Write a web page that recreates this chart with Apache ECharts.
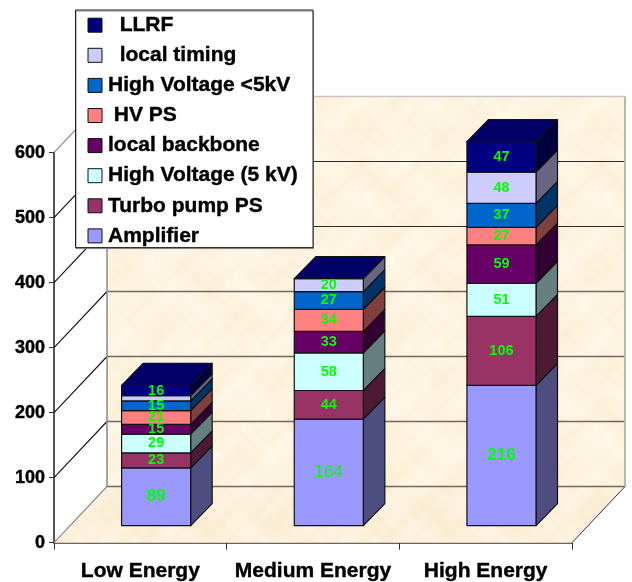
<!DOCTYPE html>
<html><head><meta charset="utf-8">
<style>html,body{margin:0;padding:0;background:#fff}#c{width:632px;height:582px}</style>
<script src="https://cdn.jsdelivr.net/npm/echarts@6/dist/echarts.min.js"></script>
</head><body><div id="c"></div>
<script>
const categories = ['Low Energy','Medium Energy','High Energy'];
const yTicks = [0,100,200,300,400,500,600];
const amplifier = [89,164,216];
const turboPump = [23,44,106];
const highVoltage5 = [29,58,51];
const localBackbone = [15,33,59];
const hvPs = [21,34,27];
const highVoltageLt5 = [15,27,37];
const localTiming = [8,20,48];
const llrf = [16,0,47];
const seriesNames = ['Amplifier','Turbo pump PS','High Voltage (5 kV)','local backbone',' HV PS','High Voltage <5kV','  local timing','  LLRF'];
const seriesValues = [amplifier,turboPump,highVoltage5,localBackbone,hvPs,highVoltageLt5,localTiming,llrf];
const frontColors = ['#9999FF','#993366','#CCFFFF','#660066','#FF8080','#0066CC','#CCCCFF','#000080'];
const sideColors = ['#4D4D80','#4D1A33','#668080','#330033','#804040','#003366','#666680','#000040'];
const topColor = '#000066';
const minLabelled = 10;
const thinLabels = [164];

const WALL = {dx:53, dy:-56.2};
const BAR = {frac:0.4, dx:15.8, dy:-17, depthX:21.5, depthY:-22};
const EDGE = '#111';

function makeTexture(base){
  const S = 240, cv = document.createElement('canvas');
  cv.width = S; cv.height = S;
  const g = cv.getContext('2d'), im = g.createImageData(S,S), T = 2*Math.PI/S;
  for(let y=0;y<S;y++) for(let x=0;x<S;x++){
    const n = Math.sin(x*T*3+Math.sin(y*T*2)*2)+Math.sin(y*T*5+Math.cos(x*T*4)*1.5)+0.6*Math.sin((x+y)*T*9)+0.5*Math.sin((x-y)*T*13+1);
    const k = Math.round(n*1.6), i = (y*S+x)*4;
    im.data[i]=Math.min(255,base[0]+k*0.4); im.data[i+1]=base[1]+k; im.data[i+2]=base[2]+k*2; im.data[i+3]=255;
  }
  g.putImageData(im,0,0);
  return {image:cv,repeat:'repeat'};
}
const wallFill = makeTexture([253,243,223]);
const floorFill = makeTexture([252,240,218]);

function wallItem(params, api){
  const cs = params.coordSys, kids = [];
  const xL = cs.x, xR = cs.x + cs.width, yB = api.coord([0,0])[1];
  const yAt = v => api.coord([0,v])[1];
  const yT = yAt(yTicks[yTicks.length-1]);
  const bL = xL+WALL.dx, bR = xR+WALL.dx, bB = yB+WALL.dy, bT = yT+WALL.dy;
  kids.push({type:'polygon',shape:{points:[[bL,bB],[bR,bB],[bR,bT],[bL,bT]]},style:{fill:wallFill,stroke:null}});
  kids.push({type:'polygon',shape:{points:[[xL,yB],[xR,yB],[bR,bB],[bL,bB]]},style:{fill:floorFill,stroke:null}});
  yTicks.forEach(v=>{
    const y = yAt(v);
    const top = v===600, low = v<=300;
    kids.push({type:'line',shape:{x1:bL,y1:y+WALL.dy,x2:bR,y2:y+WALL.dy},style:{stroke:top?'#c8c8c8':(low?'#6e6a62':'#2a2a2a'),lineWidth:top?1.5:(low?1.6:1)}});
    kids.push({type:'line',shape:{x1:xL,y1:y,x2:bL,y2:y+WALL.dy},style:{stroke:v===0||top?'#888':'#111',lineWidth:1.1}});
  });
  kids.push({type:'line',shape:{x1:bL,y1:bB,x2:bL,y2:bT},style:{stroke:'#888',lineWidth:1.5}});
  kids.push({type:'line',shape:{x1:bR,y1:bB,x2:bR,y2:bT},style:{stroke:'#bbb8a8',lineWidth:2}});
  kids.push({type:'line',shape:{x1:xR,y1:yB,x2:bR,y2:bB},style:{stroke:'#333',lineWidth:1}});
  return {type:'group',children:kids};
}

function barItem(s){
  return function(params, api){
    const c = api.value(0), a = api.value(1), b = api.value(2), val = b-a;
    const band = api.size([1,0])[0];
    const w = band*BAR.frac;
    const cx = api.coord([c,0])[0]+BAR.dx;
    const y0 = api.coord([c,a])[1]+BAR.dy, y1 = api.coord([c,b])[1]+BAR.dy;
    const xl = cx-w/2, xr = cx+w/2, dx = BAR.depthX, dy = BAR.depthY;
    const st = f => ({fill:f,stroke:EDGE,lineWidth:1.2,lineJoin:'round'});
    const kids = [];
    if(val>0){
      kids.push({type:'polygon',shape:{points:[[xr,y0],[xr+dx,y0+dy],[xr+dx,y1+dy],[xr,y1]]},style:st(sideColors[s])});
      kids.push({type:'polygon',shape:{points:[[xl,y0],[xr,y0],[xr,y1],[xl,y1]]},style:st(frontColors[s])});
    }
    if(s===seriesValues.length-1){
      kids.push({type:'polygon',shape:{points:[[xl,y1],[xr,y1],[xr+dx,y1+dy],[xl+dx,y1+dy]]},style:st(topColor)});
    }
    if(val>=minLabelled){
      const big = s===0, thin = thinLabels.includes(val);
      kids.push({type:'text',x:cx,y:(y0+y1)/2,style:{text:String(val),fill:'#00FF00',align:'center',verticalAlign:'middle',
        fontFamily:'"Liberation Sans Narrow","Liberation Sans",Arial,sans-serif',fontWeight:thin?'normal':'bold',fontSize:big?17:14.5},z2:10});
    }
    return {type:'group',children:kids};
  };
}

function rows(vals, s){
  return vals.map((v,i)=>{
    let a=0; for(let k=0;k<s;k++) a+=seriesValues[k][i];
    return [i,a,a+v];
  });
}

const chart = echarts.init(document.getElementById('c'),null,{renderer:'canvas'});
const FF = '"Liberation Sans",Arial,sans-serif';
const series = [{type:'custom',name:'walls',silent:true,z:1,clip:false,data:[[0,0]],renderItem:wallItem,encode:{x:0,y:1}}];
seriesNames.forEach((n,s)=>series.push({type:'custom',name:n,z:3,clip:false,silent:true,
  itemStyle:{color:frontColors[s]},data:rows(seriesValues[s],s),renderItem:barItem(s),encode:{x:0,y:[1,2]}}));

chart.setOption({
  animation:false,
  backgroundColor:'#fff',
  grid:{left:54,right:60,top:152.7,bottom:39.3},
  xAxis:{type:'category',data:categories,boundaryGap:true,
    axisLine:{lineStyle:{color:'#333',width:1.5}},
    axisTick:{show:true,alignWithLabel:false,length:7,lineStyle:{color:'#333',width:1}},
    axisLabel:{color:'#000',fontFamily:FF,fontWeight:'bold',fontSize:21,margin:18,interval:0,textBorderColor:'#000',textBorderWidth:0.4},splitLine:{show:false}},
  yAxis:{type:'value',min:0,max:600,interval:100,
    axisLine:{show:true,lineStyle:{color:'#555',width:2}},
    axisTick:{show:true,length:5,lineStyle:{color:'#333',width:1}},
    axisLabel:{color:'#000',fontFamily:FF,fontWeight:'bold',fontSize:18,margin:9,textBorderColor:'#000',textBorderWidth:0.4},splitLine:{show:false}},
  legend:{show:true,orient:'vertical',left:75.5,top:10,width:238,height:300,
    padding:[4.5,15,1,12],itemGap:8.7,itemWidth:14,itemHeight:14,icon:'rect',
    data:seriesNames.slice().reverse(),selectedMode:false,backgroundColor:'#fff',borderColor:'#222',borderWidth:1,
    shadowColor:'#888',shadowOffsetY:1,shadowOffsetX:0.5,shadowBlur:0,
    itemStyle:{borderColor:'#111',borderWidth:1},
    textStyle:{color:'#000',fontFamily:FF,fontWeight:'bold',fontSize:21,padding:[0,0,0,1],textBorderColor:'#000',textBorderWidth:0.4}},
  series
});
</script></body></html>
